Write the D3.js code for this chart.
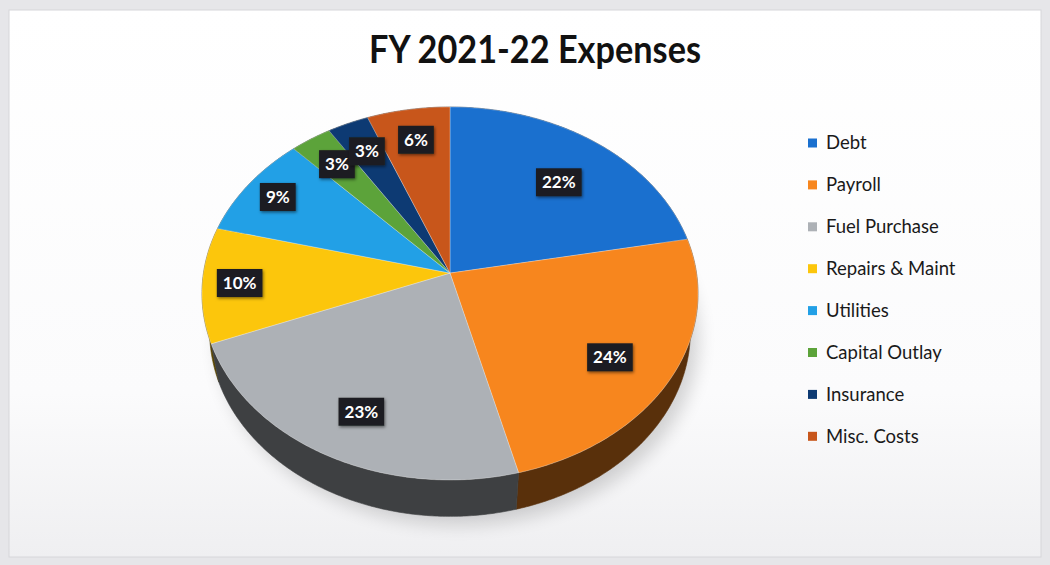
<!DOCTYPE html>
<html>
<head>
<meta charset="utf-8">
<script src="https://cdn.jsdelivr.net/npm/d3@7/dist/d3.min.js"></script>
<style>
  html, body { margin: 0; padding: 0; background: #eeeef0; }
  svg { display: block; }
</style>
</head>
<body>
<svg id="chart" width="1050" height="565"></svg>
<script>
// Expense categories and their share of the total (percent)
const categories = ["Debt", "Payroll", "Fuel Purchase", "Repairs & Maint", "Utilities", "Capital Outlay", "Insurance", "Misc. Costs"];
const shares = [22, 24, 23, 10, 9, 3, 3, 6];
const sliceColors = ["#1a70cf", "#f7861e", "#adb1b6", "#fcc60c", "#22a0e6", "#5ca33a", "#0d3a73", "#c8561b"];
const chartTitle = "FY 2021-22 Expenses";

const W = 1050, H = 565;
const svg = d3.select("#chart");
const defs = svg.append("defs");

// ---- frame ----
const bgGrad = defs.append("linearGradient").attr("id", "bg").attr("x1", 0).attr("y1", 0).attr("x2", 0).attr("y2", 1);
bgGrad.append("stop").attr("offset", "0%").attr("stop-color", "#ffffff");
bgGrad.append("stop").attr("offset", "70%").attr("stop-color", "#fbfbfc");
bgGrad.append("stop").attr("offset", "100%").attr("stop-color", "#efeff1");
svg.append("rect").attr("x", 0).attr("y", 0).attr("width", W).attr("height", H).attr("fill", "#e6e6e9");
svg.append("rect").attr("x", 9).attr("y", 10).attr("width", W - 18).attr("height", H - 18)
  .attr("fill", "url(#bg)").attr("stroke", "#d6d6da").attr("stroke-width", 1);

// ---- title ----
svg.append("text")
  .attr("x", 535).attr("y", 63)
  .attr("text-anchor", "middle")
  .attr("font-family", "Lato, 'Open Sans', sans-serif")
  .attr("font-weight", 700)
  .attr("font-size", 38)
  .attr("fill", "#111")
  .attr("textLength", 332)
  .attr("lengthAdjust", "spacingAndGlyphs")
  .text(chartTitle);

// ---- 3D pie projection ----
const tilt = 49 * Math.PI / 180;   // camera elevation
const camDist = 6;                 // camera distance in pie radii
const thickness = 0.25;            // slab thickness in pie radii

function rawProject(a, r, y) {
  const X = r * Math.sin(a), Z = -r * Math.cos(a);
  const up = y * Math.cos(tilt) - Z * Math.sin(tilt);
  const d = camDist - Z * Math.cos(tilt) - y * Math.sin(tilt);
  return [X / d, -up / d];
}

// fit the top face into its box on the page
const rim = d3.range(0, 2 * Math.PI, 0.01).map(a => rawProject(a, 1, 0));
const sx = d3.scaleLinear().domain(d3.extent(rim, p => p[0])).range([202, 698]);
const sy = d3.scaleLinear().domain(d3.extent(rim, p => p[1])).range([107, 480]);
function project(a, r, y) {
  const p = rawProject(a, r, y);
  return [sx(p[0]), sy(p[1])];
}

const arcs = d3.pie().sort(null).value(d => d)(shares);
const line = d3.line();

function arcPoints(a0, a1, r, y) {
  const n = Math.max(2, Math.ceil((a1 - a0) / 0.01));
  return d3.range(n + 1).map(i => project(a0 + (a1 - a0) * i / n, r, y));
}

// soft shadow under the pie
const shadowF = defs.append("filter").attr("id", "soft").attr("x", "-20%").attr("y", "-20%").attr("width", "140%").attr("height", "140%");
shadowF.append("feGaussianBlur").attr("stdDeviation", 9);
svg.append("path")
  .attr("d", line(arcPoints(0, 2 * Math.PI, 1.0, -thickness)) + "Z")
  .attr("transform", "translate(8,8)")
  .attr("fill", "#000").attr("opacity", 0.16)
  .attr("filter", "url(#soft)");

const pie = svg.append("g");

// outer walls, back to front
const walls = arcs.map((d, i) => ({ d, i, depth: -Math.cos((d.startAngle + d.endAngle) / 2) }))
  .sort((a, b) => a.depth - b.depth);
walls.forEach(({ d, i }) => {
  const top = arcPoints(d.startAngle, d.endAngle, 1, 0);
  const bot = arcPoints(d.startAngle, d.endAngle, 1, -thickness).reverse();
  const base = d3.color(sliceColors[i]);
  const side = d3.interpolateRgb(base, "#000")(0.64);
  pie.append("path")
    .attr("d", line(top.concat(bot)) + "Z")
    .attr("fill", side)
    .attr("stroke", side).attr("stroke-width", 0.6);
});

// top faces
const apex = project(0, 0, 0);
arcs.forEach((d, i) => {
  const pts = [apex].concat(arcPoints(d.startAngle, d.endAngle, 1, 0));
  pie.append("path")
    .attr("d", line(pts) + "Z")
    .attr("fill", sliceColors[i])
    .attr("stroke", "rgba(255,255,255,0.35)")
    .attr("stroke-width", 0.8)
    .attr("stroke-linejoin", "round");
});

// ---- value labels: large slices inside, smaller ones toward the rim ----
const lblShadow = defs.append("filter").attr("id", "lblShadow").attr("x", "-30%").attr("y", "-30%").attr("width", "160%").attr("height", "160%");
lblShadow.append("feDropShadow").attr("dx", 1).attr("dy", 1.5).attr("stdDeviation", 1.5).attr("flood-color", "#000").attr("flood-opacity", 0.5);

const labels = svg.append("g");
arcs.forEach((d, i) => {
  const mid = (d.startAngle + d.endAngle) / 2;
  const v = shares[i];
  const rr = v >= 15 ? 0.74 : v >= 8 ? 0.85 : 0.8;
  const [x, y] = project(mid, rr, v >= 15 ? -thickness * 0.2 : 0);
  const g = labels.append("g").attr("transform", `translate(${x},${y})`);
  const t = g.append("text")
    .attr("text-anchor", "middle")
    .attr("dy", "0.36em")
    .attr("font-family", "Lato, 'Open Sans', sans-serif")
    .attr("font-weight", 700)
    .attr("font-size", 17)
    .attr("fill", "#ffffff")
    .text(v + "%");
  const w = t.node().getComputedTextLength();
  g.insert("rect", "text")
    .attr("x", -w / 2 - 6).attr("y", -14)
    .attr("width", w + 12).attr("height", 28)
    .attr("fill", "#1e1f21")
    .attr("filter", "url(#lblShadow)");
});

// ---- legend ----
const legend = svg.append("g").attr("transform", "translate(808,143)");
categories.forEach((c, i) => {
  const row = legend.append("g").attr("transform", `translate(0,${i * 41.9})`);
  row.append("rect").attr("x", 0).attr("y", -4.5).attr("width", 9).attr("height", 9).attr("fill", sliceColors[i]);
  row.append("text")
    .attr("x", 18).attr("dy", "0.35em")
    .attr("font-family", "Lato, 'Open Sans', sans-serif")
    .attr("font-size", 18.5)
    .attr("fill", "#1a1a1a")
    .text(c);
});
</script>
</body>
</html>
